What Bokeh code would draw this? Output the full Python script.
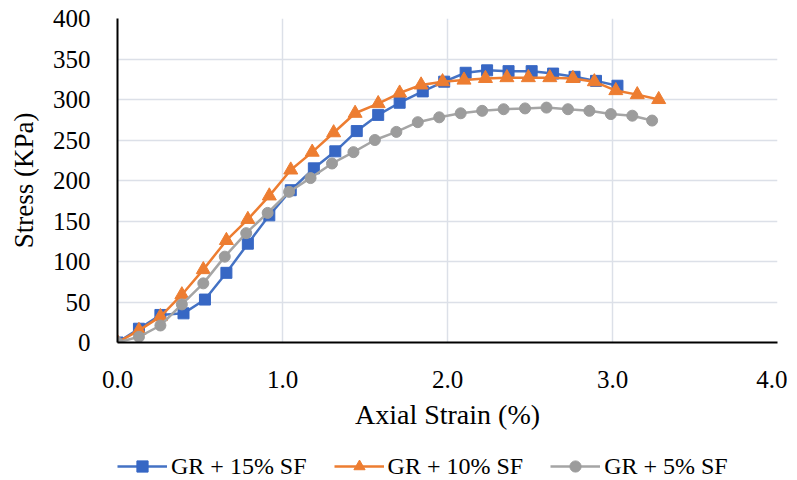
from bokeh.plotting import figure
from bokeh.layouts import column
from bokeh.models import Legend, LegendItem, FixedTicker, Range1d
from bokeh.embed import file_html
from bokeh.resources import INLINE

# ---- data ----
strain_15 = [0.00, 0.13, 0.26, 0.40, 0.53, 0.66, 0.79, 0.92, 1.05, 1.19, 1.32, 1.45,
             1.58, 1.71, 1.85, 1.98, 2.11, 2.24, 2.37, 2.51, 2.64, 2.77, 2.90, 3.03]
stress_15 = [0, 17, 34, 36, 53, 86, 122, 157, 188, 215, 236, 261,
             281, 296, 310, 322, 333, 336, 335, 335, 332, 328, 323, 317]

strain_10 = [0.00, 0.13, 0.26, 0.39, 0.52, 0.66, 0.79, 0.92, 1.05, 1.18, 1.31, 1.44, 1.58,
             1.71, 1.84, 1.97, 2.10, 2.23, 2.36, 2.49, 2.62, 2.76, 2.89, 3.02, 3.15, 3.28]
stress_10 = [0, 15, 32, 59, 90, 126, 152, 181, 213, 235, 259, 283, 295,
             308, 318, 322, 324, 326, 327, 327, 327, 326, 322, 311, 306, 300]

strain_5 = [0.00, 0.13, 0.26, 0.39, 0.52, 0.65, 0.78, 0.91, 1.04, 1.17, 1.30, 1.43, 1.56,
            1.69, 1.82, 1.95, 2.08, 2.21, 2.34, 2.47, 2.60, 2.73, 2.86, 2.99, 3.12, 3.24]
stress_5 = [0, 7, 21, 47, 73, 106, 135, 160, 186, 203, 221, 235, 250,
            260, 272, 278, 283, 286, 288, 289, 290, 288, 286, 282, 280, 274]

series_names = ["GR + 15% SF", "GR + 10% SF", "GR + 5% SF"]
x_ticks = [0, 1, 2, 3, 4]
x_tick_labels = ["0.0", "1.0", "2.0", "3.0", "4.0"]
y_ticks = [0, 50, 100, 150, 200, 250, 300, 350, 400]
x_title = "Axial Strain (%)"
y_title = "Stress (KPa)"

FONT = "Liberation Serif"

p = figure(frame_width=660, frame_height=324, output_backend="svg", toolbar_location=None,
           x_range=Range1d(0, 4), y_range=Range1d(0, 400),
           min_border_left=116, min_border_right=11, min_border_top=18,
           min_border_bottom=0)
p.outline_line_color = None

styles = [
    dict(x=strain_15, y=stress_15, line="#4472C4", fill="#3767C4", marker="square", size=11),
    dict(x=strain_10, y=stress_10, line="#ED7D31", fill="#ED7D31", marker="triangle", size=14),
    dict(x=strain_5, y=stress_5, line="#A5A5A5", fill="#9C9C9C", marker="circle", size=11),
]

for s in styles:
    p.line(s["x"], s["y"], line_color=s["line"], line_width=2.5)
    p.scatter(s["x"], s["y"], marker=s["marker"], size=s["size"],
              fill_color=s["fill"], line_color=s["fill"], line_width=1)

# axes
p.xaxis.ticker = FixedTicker(ticks=x_ticks)
p.xaxis.major_label_overrides = {t: l for t, l in zip(x_ticks, x_tick_labels)}
p.yaxis.ticker = FixedTicker(ticks=y_ticks)
p.xaxis.axis_label = x_title
p.yaxis.axis_label = y_title

for ax in (p.xaxis, p.yaxis):
    ax.axis_line_color = "black"
    ax.axis_line_width = 2
    ax.major_tick_line_color = None
    ax.minor_tick_line_color = None
    ax.major_tick_out = 0
    ax.major_tick_in = 0
    ax.major_label_text_font = FONT
    ax.major_label_text_font_size = "25px"
    ax.major_label_text_color = "black"
    ax.axis_label_text_font = FONT
    ax.axis_label_text_font_size = "27px"
    ax.axis_label_text_font_style = "normal"
    ax.axis_label_text_color = "black"

p.xaxis.axis_label_text_font_size = "28px"
p.xaxis.major_label_standoff = 28
p.xaxis.axis_label_standoff = 8
p.yaxis.major_label_standoff = 27
p.yaxis.axis_label_standoff = 11

p.grid.grid_line_color = "#DCE0E8"
p.grid.grid_line_width = 1.5

# ---- legend strip (separate canvas below the chart; series kept out of view) ----
lg = figure(width=787, height=48, output_backend="svg", toolbar_location=None,
            x_range=Range1d(0, 4), y_range=Range1d(1000, 1001),
            x_axis_location=None, y_axis_location=None,
            min_border_left=117, min_border_right=10, min_border_top=0,
            min_border_bottom=0)
lg.outline_line_color = None
lg.grid.visible = False

items = []
for name, s in zip(series_names, styles):
    lr = lg.line(s["x"], s["y"], line_color=s["line"], line_width=2.5)
    sr = lg.scatter(s["x"], s["y"], marker=s["marker"], size=s["size"],
                    fill_color=s["fill"], line_color=s["fill"], line_width=1)
    items.append(LegendItem(label=name, renderers=[lr, sr]))

legend = Legend(items=items, orientation="horizontal", location="bottom_left",
                glyph_width=50, glyph_height=28, label_height=28, label_standoff=4, spacing=27,
                padding=0, margin=0, border_line_color=None, background_fill_alpha=0,
                label_text_font=FONT, label_text_font_size="24px",
                label_text_color="black")
lg.add_layout(legend)

layout = column(p, lg, spacing=0)
open("out.html", "w").write(file_html(layout, INLINE))
